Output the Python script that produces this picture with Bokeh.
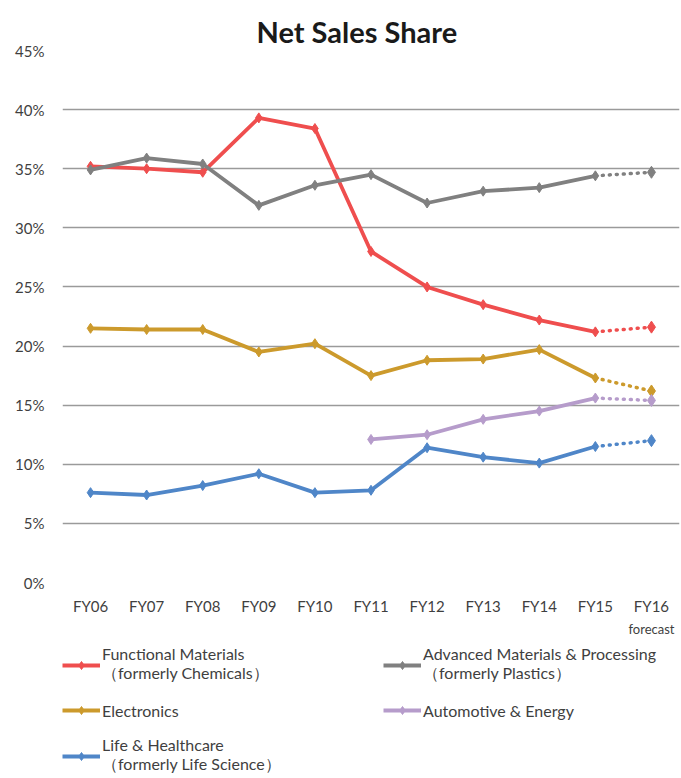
import math
from bokeh.plotting import figure
from bokeh.layouts import column
from bokeh.models import (ColumnDataSource, Legend, LegendItem, FixedTicker,
                          PrintfTickFormatter, Range1d, FactorRange)
from bokeh.core.properties import value
from bokeh.embed import file_html
from bokeh.resources import INLINE

nan = float("nan")

categories = ["FY06", "FY07", "FY08", "FY09", "FY10", "FY11",
              "FY12", "FY13", "FY14", "FY15", "FY16"]
functional = [35.2, 35.0, 34.7, 39.3, 38.4, 28.0, 25.0, 23.5, 22.2, 21.2, 21.6]
advanced = [34.9, 35.9, 35.4, 31.9, 33.6, 34.5, 32.1, 33.1, 33.4, 34.4, 34.7]
electronics = [21.5, 21.4, 21.4, 19.5, 20.2, 17.5, 18.8, 18.9, 19.7, 17.3, 16.2]
automotive = [nan, nan, nan, nan, nan, 12.1, 12.5, 13.8, 14.5, 15.6, 15.4]
life = [7.6, 7.4, 8.2, 9.2, 7.6, 7.8, 11.4, 10.6, 10.1, 11.5, 12.0]
y_ticks = [0, 5, 10, 15, 20, 25, 30, 35, 40, 45]
forecast_note = "forecast"

series = [
    ("Functional Materials\n（formerly Chemicals）", functional, "#EF4E4E"),
    ("Advanced Materials & Processing\n（formerly Plastics）", advanced, "#808080"),
    ("Electronics", electronics, "#CC9A2C"),
    ("Automotive & Energy", automotive, "#B69CCB"),
    ("Life & Healthcare\n（formerly Life Science）", life, "#4F86C8"),
]

FONT = "Lato"
TEXT = "#3F3F3F"

x_range = FactorRange(*categories)

p = figure(x_range=x_range, y_range=Range1d(0, 45),
           frame_width=617, frame_height=532,
           min_border_left=62, min_border_right=1, min_border_top=50,
           min_border_bottom=36,
           output_backend="svg", toolbar_location=None,
           title="Net Sales Share")

p.outline_line_color = None
p.background_fill_color = "white"
p.border_fill_color = "white"

p.title.text_font = FONT
p.title.text_font_size = "29px"
p.title.text_font_style = "bold"
p.title.text_color = "#1A1A1A"
p.title.align = "left"
p.title.offset = 194
p.title.standoff = 4

p.xgrid.grid_line_color = None
p.ygrid.grid_line_color = "#9A9A9A"
p.ygrid.grid_line_width = 1.7
p.yaxis.ticker = FixedTicker(ticks=y_ticks)
p.yaxis.formatter = PrintfTickFormatter(format="%d%%")

for ax in (p.xaxis + p.yaxis):
    ax.axis_line_color = None
    ax.major_tick_line_color = None
    ax.minor_tick_line_color = None
    ax.major_tick_out = 0
    ax.major_tick_in = 0
    ax.major_label_text_font = FONT
    ax.major_label_text_font_size = "15px"
    ax.major_label_text_color = TEXT

p.yaxis.major_label_standoff = 18
p.xaxis.major_label_standoff = 14

# legend panel below the chart, sharing the category axis
lg = figure(x_range=x_range, y_range=Range1d(158, 0),
            frame_width=617, frame_height=158,
            min_border_left=62, min_border_right=1, min_border_top=0,
            min_border_bottom=0, x_axis_location=None, y_axis_location=None,
            output_backend="svg", toolbar_location=None)
lg.outline_line_color = None
lg.grid.visible = False
lg.border_fill_color = "white"

lg.text(x=categories[-1:], y=[10], text=[forecast_note],
        text_font=value(FONT), text_font_size="13px", text_color=TEXT,
        text_align="center", text_baseline="middle")

items = []
for label, vals, color in series:
    actual = ColumnDataSource(dict(x=categories[:-1], y=vals[:-1]))
    fc = ColumnDataSource(dict(x=categories[-2:], y=vals[-2:]))
    p.line("x", "y", source=actual, line_color=color, line_width=3.8,
           line_join="round")
    p.scatter("x", "y", source=actual, marker="diamond", size=10,
              fill_color=color, line_color=color)
    p.line("x", "y", source=fc, line_color=color, line_width=3.5,
           line_dash="1 6", line_cap="round")
    p.scatter("x", "y", source=ColumnDataSource(dict(x=categories[-1:], y=vals[-1:])),
              marker="diamond", size=12, fill_color=color, line_color=color)
    # legend swatches (same styling; a single undefined point, nothing plotted)
    key = ColumnDataSource(dict(x=categories[:1], y=[nan]))
    kl = lg.line("x", "y", source=key, line_color=color, line_width=3.8)
    ks = lg.scatter("x", "y", source=key, marker="diamond", size=8,
                    fill_color=color, line_color=color)
    items.append(LegendItem(label=label, renderers=[kl, ks]))

legend = Legend(items=items, orientation="horizontal", ncols=2,
                location="bottom_left", glyph_width=38, glyph_height=20,
                label_standoff=2, label_width=275, label_height=38,
                label_text_font=FONT, label_text_font_size="16px",
                label_text_color=TEXT, spacing=6, padding=0, margin=0,
                border_line_color=None, background_fill_alpha=0)
lg.add_layout(legend)

open("out.html", "w").write(file_html(column(p, lg), INLINE))
